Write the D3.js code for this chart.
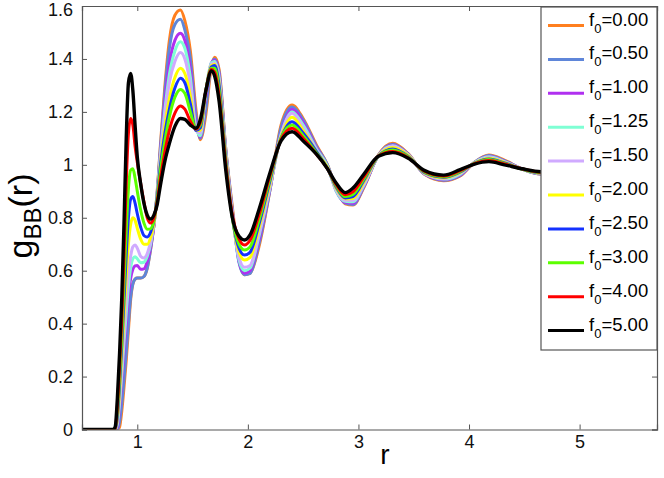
<!DOCTYPE html>
<html>
<head>
<meta charset="utf-8">
<script src="https://cdn.jsdelivr.net/npm/d3@7"></script>
<style>
body { margin: 0; background: #fff; }
text { font-family: "Liberation Sans", Arial, Helvetica, sans-serif; }
</style>
</head>
<body>
<div id="chart"></div>
<script>
// r grid shared by every curve
var rValues = [0.50,0.78,0.80,0.82,0.84,0.86,0.88,0.90,0.92,0.94,0.96,0.98,1.00,1.03,1.06,1.09,1.12,1.15,1.18,1.21,1.25,1.29,1.34,1.39,1.43,1.48,1.53,1.57,1.62,1.67,1.70,1.74,1.80,1.86,1.92,1.97,2.02,2.10,2.20,2.30,2.40,2.50,2.62,2.72,2.80,2.88,2.95,3.05,3.18,3.31,3.45,3.60,3.77,3.92,4.05,4.18,4.32,4.48,4.65,4.85,5.10,5.40,5.70];

var fLabels = ["0.00","0.50","1.00","1.25","1.50","2.00","2.50","3.00","4.00","5.00"];
var fColors = ["#ff7f1f","#5f86d9","#b030f0","#7fffd4","#d0aaff","#ffff00","#1432ff","#5cff00","#ff0000","#000000"];

var g000 = [0,0,0,0,0.01,0.07,0.16,0.26,0.376,0.49,0.55,0.568,0.572,0.572,0.578,0.61,0.68,0.77,0.90,1.08,1.30,1.47,1.565,1.585,1.545,1.43,1.21,1.095,1.19,1.37,1.406,1.36,1.06,0.84,0.64,0.585,0.59,0.69,0.905,1.15,1.226,1.175,1.075,1.0,0.91,0.853,0.848,0.915,1.037,1.081,1.042,0.963,0.94,0.958,1.01,1.037,1.018,0.984,0.965,0.975,0.998,1.004,0.995];
var g050 = [0,0,0,0,0.03,0.10,0.19,0.29,0.40,0.50,0.55,0.568,0.572,0.572,0.578,0.61,0.68,0.77,0.895,1.07,1.28,1.44,1.53,1.55,1.51,1.40,1.19,1.10,1.21,1.38,1.40,1.35,1.06,0.83,0.63,0.585,0.59,0.70,0.905,1.14,1.218,1.17,1.07,1.0,0.91,0.855,0.85,0.918,1.036,1.078,1.04,0.964,0.942,0.96,1.01,1.035,1.016,0.984,0.965,0.975,0.998,1.004,0.995];
var g100 = [0,0,0,0.01,0.08,0.18,0.29,0.40,0.50,0.57,0.605,0.618,0.62,0.605,0.607,0.635,0.69,0.77,0.89,1.05,1.24,1.38,1.47,1.497,1.47,1.36,1.16,1.105,1.26,1.385,1.395,1.34,1.05,0.82,0.635,0.59,0.60,0.715,0.91,1.12,1.21,1.16,1.065,0.995,0.90,0.858,0.855,0.92,1.035,1.075,1.039,0.965,0.944,0.962,1.009,1.032,1.014,0.984,0.966,0.975,0.997,1.003,0.995];
var g125 = [0,0,0,0.02,0.10,0.21,0.33,0.44,0.54,0.61,0.645,0.653,0.645,0.63,0.632,0.655,0.70,0.78,0.89,1.04,1.21,1.34,1.43,1.465,1.44,1.33,1.14,1.11,1.28,1.385,1.39,1.33,1.045,0.815,0.64,0.60,0.61,0.73,0.915,1.115,1.20,1.15,1.06,0.995,0.90,0.862,0.86,0.924,1.035,1.072,1.038,0.966,0.946,0.965,1.009,1.03,1.012,0.984,0.967,0.976,0.997,1.003,0.995];
var g150 = [0,0,0,0.03,0.12,0.24,0.37,0.49,0.59,0.655,0.69,0.697,0.685,0.655,0.648,0.665,0.71,0.78,0.88,1.03,1.19,1.31,1.39,1.424,1.40,1.30,1.13,1.12,1.28,1.38,1.385,1.32,1.04,0.81,0.65,0.613,0.62,0.74,0.92,1.11,1.195,1.14,1.055,0.99,0.905,0.866,0.866,0.928,1.034,1.07,1.037,0.966,0.948,0.968,1.008,1.028,1.011,0.984,0.968,0.976,0.996,1.002,0.995];
var g200 = [0,0,0,0.04,0.14,0.28,0.43,0.58,0.70,0.775,0.80,0.79,0.76,0.72,0.70,0.70,0.725,0.78,0.88,1.01,1.15,1.25,1.33,1.365,1.345,1.26,1.13,1.13,1.28,1.375,1.38,1.31,1.03,0.80,0.67,0.64,0.65,0.76,0.93,1.105,1.18,1.13,1.05,0.99,0.91,0.872,0.873,0.935,1.033,1.065,1.035,0.968,0.95,0.97,1.007,1.025,1.009,0.984,0.969,0.977,0.996,1.002,0.995];
var g250 = [0,0,0,0.05,0.17,0.32,0.49,0.66,0.80,0.87,0.88,0.855,0.815,0.765,0.733,0.727,0.745,0.79,0.88,1.00,1.12,1.21,1.29,1.327,1.31,1.23,1.13,1.14,1.28,1.37,1.375,1.30,1.02,0.80,0.685,0.659,0.67,0.775,0.94,1.10,1.163,1.12,1.05,0.985,0.915,0.875,0.88,0.942,1.033,1.06,1.032,0.97,0.953,0.973,1.006,1.022,1.007,0.984,0.970,0.977,0.995,1.0,0.995];
var g300 = [0,0,0.002,0.07,0.20,0.36,0.55,0.75,0.91,0.98,0.985,0.95,0.90,0.83,0.78,0.757,0.758,0.79,0.87,0.98,1.09,1.18,1.255,1.285,1.27,1.20,1.135,1.15,1.28,1.365,1.365,1.28,1.01,0.80,0.70,0.678,0.69,0.79,0.95,1.10,1.15,1.11,1.045,0.985,0.92,0.88,0.888,0.948,1.033,1.056,1.03,0.972,0.955,0.975,1.005,1.02,1.005,0.984,0.971,0.978,0.995,1.0,0.995];
var g400 = [0,0,0.003,0.09,0.24,0.42,0.66,0.93,1.12,1.175,1.15,1.07,1.01,0.93,0.86,0.80,0.78,0.80,0.86,0.95,1.05,1.13,1.195,1.222,1.21,1.165,1.135,1.16,1.28,1.36,1.35,1.26,1.00,0.81,0.72,0.697,0.715,0.81,0.96,1.095,1.138,1.10,1.04,0.985,0.925,0.887,0.898,0.955,1.033,1.05,1.027,0.975,0.958,0.978,1.004,1.016,1.003,0.985,0.972,0.979,0.995,1.0,0.995];
var g500 = [0,0,0.01,0.12,0.29,0.50,0.78,1.10,1.31,1.345,1.28,1.15,1.03,0.93,0.855,0.81,0.795,0.81,0.85,0.925,1.015,1.08,1.145,1.175,1.172,1.15,1.138,1.17,1.28,1.355,1.335,1.24,0.98,0.80,0.73,0.716,0.735,0.83,0.97,1.09,1.125,1.09,1.04,0.985,0.93,0.895,0.912,0.965,1.032,1.046,1.025,0.978,0.961,0.982,1.003,1.012,1.0,0.985,0.974,0.98,0.995,1.0,0.995];

var series = [g000, g050, g100, g125, g150, g200, g250, g300, g400, g500];

var xTicks = [1, 2, 3, 4, 5];
var yTicks = [0, 0.2, 0.4, 0.6, 0.8, 1, 1.2, 1.4, 1.6];

var W = 664, H = 478;
var margin = {top: 6, right: 7, bottom: 48.5, left: 82};
var width = W - margin.left - margin.right,
	height = H - margin.top - margin.bottom;

var svg = d3.select("#chart").append("svg")
	.attr("width", W)
	.attr("height", H);

var plot = svg.append("g")
	.attr("transform", "translate(" + margin.left + "," + margin.top + ")");

var xScale = d3.scaleLinear()
	.domain([0.5, 5.7])
	.range([0, width]);
var yScale = d3.scaleLinear()
	.domain([0, 1.6])
	.range([height, 0]);

plot.append("clipPath").attr("id", "clip")
	.append("rect").attr("width", width).attr("height", height);

var line = d3.line()
	.x(function(d, i) { return xScale(rValues[i]); })
	.y(function(d) { return yScale(d); })
	.curve(d3.curveMonotoneX);

plot.append("g").attr("clip-path", "url(#clip)")
	.selectAll("path")
	.data(series)
	.enter()
	.append("path")
	.attr("d", line)
	.attr("fill", "none")
	.attr("stroke", function(d, i) { return fColors[i]; })
	.attr("stroke-width", function(d, i) { return i === 9 ? 3.4 : 3; })
	.attr("stroke-linejoin", "round");

// axes, ticks pointing inward like matlab
var fmt = d3.format("~g");
var xAxis = plot.append("g")
	.attr("transform", "translate(0," + height + ")")
	.call(d3.axisBottom(xScale).tickValues(xTicks).tickSize(-5).tickPadding(6).tickFormat(fmt));
var xTop = plot.append("g")
	.call(d3.axisTop(xScale).tickValues(xTicks).tickSize(-5).tickFormat(""));
var yAxis = plot.append("g")
	.call(d3.axisLeft(yScale).tickValues(yTicks).tickSize(-5).tickPadding(9).tickFormat(fmt));
var yRight = plot.append("g")
	.attr("transform", "translate(" + width + ",0)")
	.call(d3.axisRight(yScale).tickValues(yTicks).tickSize(-5).tickFormat(""));

[xAxis, xTop, yAxis, yRight].forEach(function(a) {
	a.select(".domain").attr("stroke", "#555").attr("stroke-width", 1.2);
	a.selectAll(".tick line").attr("stroke", "#555");
	a.selectAll("text").attr("font-size", 18).attr("fill", "#111");
});
// top label would be clipped otherwise
yAxis.selectAll("text").filter(function(d) { return d === 1.6; }).attr("dy", "0.55em");

svg.append("text")
	.attr("x", 385)
	.attr("y", 464)
	.attr("text-anchor", "middle")
	.attr("font-size", 28)
	.text("r");

var ylab = svg.append("text")
	.attr("transform", "translate(32,216) rotate(-90)")
	.attr("text-anchor", "middle")
	.attr("font-size", 34);
ylab.append("tspan").text("g");
ylab.append("tspan").attr("font-size", 24).attr("dy", 9).text("BB");
ylab.append("tspan").attr("dy", -9).text("(r)");

// legend
var legend = svg.append("g");
legend.append("rect")
	.attr("x", 541)
	.attr("y", 7)
	.attr("width", 116)
	.attr("height", 343)
	.attr("fill", "#fff")
	.attr("stroke", "#555")
	.attr("stroke-width", 1.2);

var rows = legend.selectAll("g.row")
	.data(fLabels)
	.enter()
	.append("g")
	.attr("class", "row")
	.attr("transform", function(d, i) { return "translate(0," + (25.5 + i * 33.9) + ")"; });

rows.append("line")
	.attr("x1", 548).attr("x2", 584)
	.attr("stroke", function(d, i) { return fColors[i]; })
	.attr("stroke-width", 3);

var lt = rows.append("text")
	.attr("x", 589)
	.attr("y", 0)
	.attr("font-size", 18.5);
lt.append("tspan").text("f");
lt.append("tspan").attr("font-size", 13).attr("dy", 7).text("0");
lt.append("tspan").attr("dy", -7).text(function(d) { return "=" + d; });
</script>
</body>
</html>
